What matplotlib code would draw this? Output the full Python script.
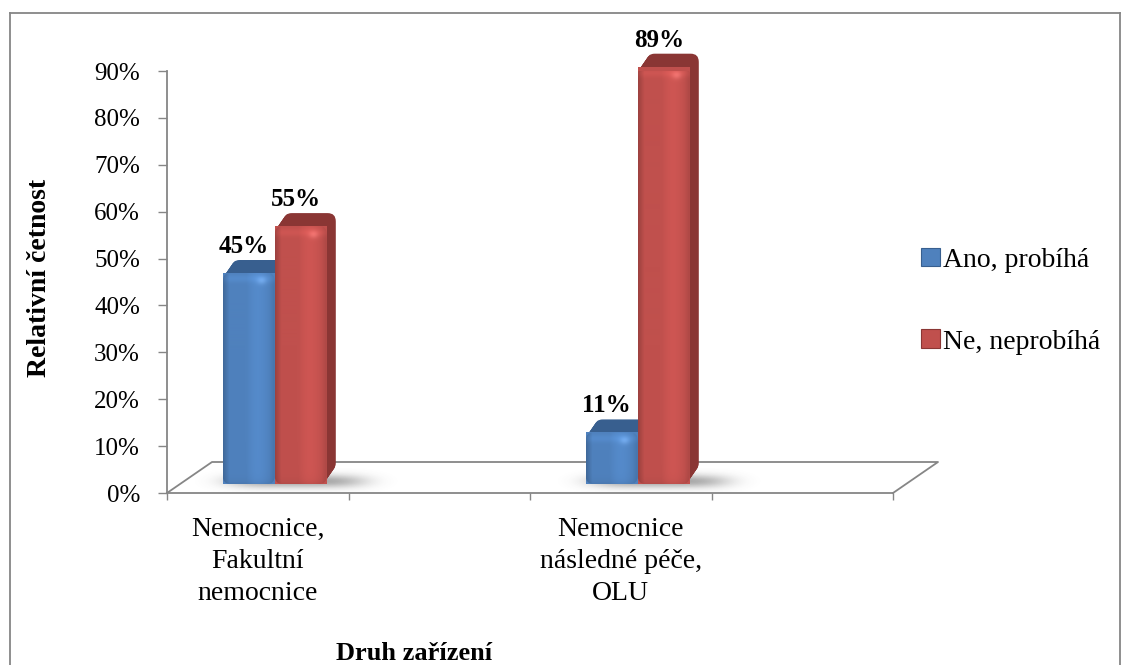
import numpy as np
import matplotlib
matplotlib.use("Agg")
import matplotlib.pyplot as plt
from matplotlib.patches import FancyBboxPatch, Patch
from matplotlib.lines import Line2D
from matplotlib.colors import to_rgb

plt.rcParams["font.family"] = ["Liberation Serif", "DejaVu Serif"]

# ---- data -------------------------------------------------------------
categories = ["Nemocnice,\nFakultní\nnemocnice", "Nemocnice\nnásledné péče,\nOLU"]
series_names = ["Ano, probíhá", "Ne, neprobíhá"]
ano = [0.45, 0.11]
ne = [0.55, 0.89]
y_ticks = [0.0, 0.1, 0.2, 0.3, 0.4, 0.5, 0.6, 0.7, 0.8, 0.9]
y_tick_labels = ["0%", "10%", "20%", "30%", "40%", "50%", "60%", "70%", "80%", "90%"]

# ---- styling ----------------------------------------------------------
face_colors = ["#4F81BD", "#C0504D"]
depth_colors = ["#385F8F", "#8A3634"]
axis_gray = "#868686"

W, H = 1126, 665
fig = plt.figure(figsize=(W / 100, H / 100), dpi=100)

# plot area in pixel units (from the top-left corner of the figure)
AX_L, AX_R, AX_B, AX_T = 167, 893, 493, 71
ax = fig.add_axes([AX_L / W, 1 - AX_B / H, (AX_R - AX_L) / W, (AX_B - AX_T) / H])
ax.patch.set_visible(False)

n_slots = 2 * len(categories)
x_pos = np.arange(len(categories)) * 2.0
xlim = (-0.5, n_slots - 0.5)
ylim = (0.0, 0.9)
ux = (xlim[1] - xlim[0]) / (AX_R - AX_L)   # data units per pixel (x)
uy = (ylim[1] - ylim[0]) / (AX_B - AX_T)   # data units per pixel (y)

bar_w = 52 * ux           # front face width
front_dx, front_dy = 17 * ux, 9 * uy      # bars stand inside the floor
depth_dx, depth_dy = 9 * ux, 13 * uy      # bar extrusion
floor_dx, floor_dy = 45 * ux, 31 * uy     # floor depth
radius = 8 * ux
aspect = uy / ux


def shade_image(base, w_px, h_px):
    """Horizontal/vertical shading for a bevelled bar front."""
    base = np.array(to_rgb(base))
    xs = np.linspace(0, 1, max(int(w_px), 2))
    ys = np.linspace(0, 1, max(int(h_px), 2))   # 0 = bottom, 1 = top
    fx = np.ones_like(xs)
    fx = np.where(xs < 0.12, 0.82 + 0.18 * xs / 0.12, fx)
    fx = np.where((xs > 0.45) & (xs < 0.9), 1.0 + 0.07 * np.sin((xs - 0.45) / 0.45 * np.pi), fx)
    fx = np.where(xs >= 0.9, 1.0 - 0.10 * (xs - 0.9) / 0.1, fx)
    top_px = (1 - ys) * h_px
    fy = 1.0 + 0.07 * np.exp(-((top_px - 6) / 4.0) ** 2)
    fy = fy - 0.06 * np.exp(-(ys * h_px) / 4.0)
    img = base[None, None, :] * fx[None, :, None] * fy[:, None, None]
    # soft light spot near the upper right corner
    xx, yy = np.meshgrid(xs * w_px, top_px)
    spot = np.exp(-(((xx - 0.75 * w_px) / 5.0) ** 2 + ((yy - 8) / 4.0) ** 2))
    img = img + 0.10 * spot[..., None]
    return np.clip(img[::-1], 0, 1)


def shadow(ax, x0, x1, y_base):
    nx, ny = 240, 40
    xs = np.linspace(0, 1, nx)
    ys = np.linspace(0, 1, ny)
    xx, yy = np.meshgrid(xs, ys)
    a = np.exp(-((xx - 0.45) / 0.30) ** 4) * np.exp(-((yy - 0.45) / 0.28) ** 2)
    rgba = np.zeros((ny, nx, 4))
    rgba[..., :3] = 0.30
    rgba[..., 3] = 0.50 * a
    ax.imshow(rgba, extent=(x0, x1, y_base - 6 * uy, y_base + 18 * uy),
              aspect="auto", origin="lower", zorder=1, interpolation="bilinear",
              clip_on=False)


# ---- floor ------------------------------------------------------------
floor_kw = dict(color=axis_gray, lw=1.3, clip_on=False, zorder=0.5)
ax.plot([xlim[0], xlim[0] + floor_dx, xlim[1] + floor_dx, xlim[1]],
        [0, floor_dy, floor_dy, 0], **floor_kw)

# ---- shadows ----------------------------------------------------------
for xc in x_pos:
    shadow(ax, xc - bar_w - 30 * ux + front_dx, xc + bar_w + 95 * ux + front_dx, front_dy - 2 * uy)

# ---- bars -------------------------------------------------------------
series_values = [ano, ne]
for si, vals in enumerate(series_values):
    lefts = x_pos - bar_w + si * bar_w + front_dx
    bars = ax.bar(lefts, vals, width=bar_w, bottom=front_dy, align="edge",
                  color=face_colors[si], linewidth=0, zorder=3 + 2 * si, clip_on=False)
    for rect, v in zip(bars, vals):
        x0, y0 = rect.get_x(), rect.get_y()
        w, h = rect.get_width(), rect.get_height()
        # extrusion towards the back
        for t in np.linspace(1, 0.05, 16):
            ext = FancyBboxPatch((x0 + t * depth_dx, y0 + t * depth_dy), w, h,
                                 boxstyle=f"round,pad=0,rounding_size={radius}",
                                 mutation_aspect=aspect, facecolor=depth_colors[si],
                                 edgecolor="none", zorder=2.5 + 2 * si, clip_on=False)
            ax.add_patch(ext)
        outline = FancyBboxPatch((x0, y0), w, h,
                                 boxstyle=f"round,pad=0,rounding_size={radius}",
                                 mutation_aspect=aspect, facecolor="none",
                                 edgecolor="none", zorder=3 + 2 * si, clip_on=False)
        ax.add_patch(outline)
        rect.set_clip_path(outline)
        img = ax.imshow(shade_image(face_colors[si], w / ux, h / uy),
                        extent=(x0, x0 + w, y0, y0 + h), aspect="auto",
                        zorder=3.2 + 2 * si, interpolation="bilinear")
        img.set_clip_path(outline)
        ax.annotate(f"{v:.0%}", xy=(x0 + w / 2, y0 + h), xytext=(-5 * 0.72, 20 * 0.72),
                    textcoords="offset points", ha="center", va="baseline",
                    fontsize=18, fontweight="bold", color="black", zorder=10,
                    annotation_clip=False)

ax.set_xlim(*xlim)
ax.set_ylim(*ylim)

# ---- axes -------------------------------------------------------------
for s in ("top", "right"):
    ax.spines[s].set_visible(False)
for s in ("left", "bottom"):
    ax.spines[s].set_color(axis_gray)
    ax.spines[s].set_linewidth(1.3)

ax.set_yticks(y_ticks, y_tick_labels)
ax.tick_params(axis="y", direction="out", length=6.5, width=1.0, color=axis_gray,
               pad=13, labelsize=18)
ax.set_xticks(np.arange(xlim[0], xlim[1] + 0.01, 1.0), [""] * (n_slots + 1))
ax.set_xticks(x_pos, categories, minor=True)
ax.tick_params(axis="x", which="major", direction="out", length=5, width=1.0, color=axis_gray)
ax.tick_params(axis="x", which="minor", length=0, pad=17, labelsize=20)
for lab in ax.get_xticklabels(minor=True):
    lab.set_linespacing(1.38)

fig.text(40 / W, 1 - 278 / H, "Relativní četnost", rotation=90, ha="center", va="center",
         fontsize=20, fontweight="bold")
fig.text(414 / W, 1 - 660 / H, "Druh zařízení", ha="center", va="baseline",
         fontsize=19, fontweight="bold")

# ---- legend -----------------------------------------------------------
handles = [Patch(facecolor=face_colors[i], edgecolor=depth_colors[i], linewidth=0.8)
           for i in range(len(series_names))]
fig.legend(handles, series_names, loc="center left", bbox_to_anchor=(921 / W, 1 - 301 / H),
           frameon=False, fontsize=20, handlelength=0.68, handleheight=0.65,
           handletextpad=0.12, labelspacing=2.05, borderpad=0, borderaxespad=0)

# ---- chart border -----------------------------------------------------
bx0, bx1, by0 = 10 / W, 1120 / W, 1 - 13 / H
for xs, ys in (([bx0, bx0], [by0, -0.02]), ([bx0, bx1], [by0, by0]), ([bx1, bx1], [by0, -0.02])):
    fig.add_artist(Line2D(xs, ys, transform=fig.transFigure, color=axis_gray, lw=1.3))

fig.savefig("out.png", dpi=100)
